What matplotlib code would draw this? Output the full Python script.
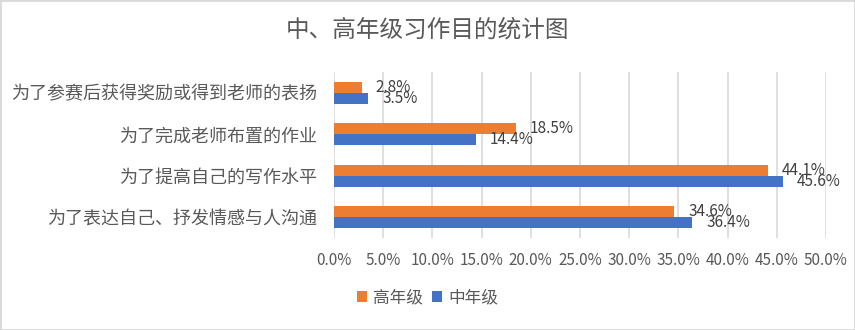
import numpy as np
import matplotlib.pyplot as plt
from matplotlib.patches import Rectangle

plt.rcParams['font.family'] = ['Noto Sans CJK SC', 'DejaVu Sans']

categories = ['为了参赛后获得奖励或得到老师的表扬', '为了完成老师布置的作业',
              '为了提高自己的写作水平', '为了表达自己、抒发情感与人沟通']
senior = [2.8, 18.5, 44.1, 34.6]   # 高年级
middle = [3.5, 14.4, 45.6, 36.4]   # 中年级
xticks = np.arange(0, 55, 5)

grey = '#595959'
orange = '#ED7D31'
blue = '#4472C4'

fig = plt.figure(figsize=(8.55, 3.3), dpi=100)
ax = fig.add_axes([334/855, 1-238/330, (826-334)/855, (238-72)/330])

y = np.arange(len(categories))
h = 0.26
b1 = ax.barh(y - h/2, senior, height=h, color=orange, label='高年级', zorder=3)
b2 = ax.barh(y + h/2, middle, height=h, color=blue, label='中年级', zorder=3)

for bars, vals in ((b1, senior), (b2, middle)):
    for bar, v in zip(bars, vals):
        ax.annotate(f'{v:.1f}%', (bar.get_width(), bar.get_y() + bar.get_height()/2),
                    xytext=(14, 0), textcoords='offset pixels',
                    va='center', ha='left', fontsize=11, color='#404040', zorder=4)

ax.set_ylim(len(categories) - 0.5, -0.5)
ax.set_xlim(0, 50)
ax.set_xticks(xticks)
ax.set_xticklabels([f'{t:.1f}%' for t in xticks])
ax.set_yticks(y)
ax.set_yticklabels(categories)
ax.tick_params(axis='both', length=0, colors=grey)
ax.tick_params(axis='x', pad=10, labelsize=11)
ax.tick_params(axis='y', pad=12, labelsize=13)
ax.grid(axis='x', color='#D9D9D9', linewidth=1.2, zorder=0)
for s in ax.spines.values():
    s.set_visible(False)

fig.text(0.5, 1-30/330, '中、高年级习作目的统计图', ha='center', va='center',
         fontsize=17, color=grey)

fig.legend(loc='center', bbox_to_anchor=(0.5, 1-298/330), ncol=2, frameon=False,
           fontsize=12, labelcolor=grey, handlelength=0.6, handleheight=0.6,
           handletextpad=0.4, columnspacing=0.5)

fig.patches.append(Rectangle((0, 0), 1, 1, transform=fig.transFigure,
                             fill=False, edgecolor='#D9D9D9', linewidth=2))

fig.savefig('out.png', dpi=100)
